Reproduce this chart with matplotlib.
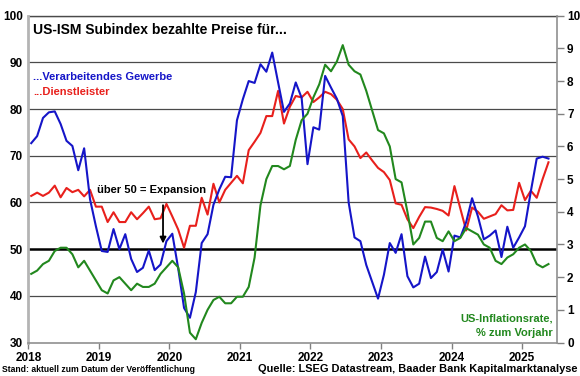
import numpy as np
import matplotlib
matplotlib.use("Agg")
import matplotlib.pyplot as plt

plt.rcParams['font.family'] = ['Liberation Sans', 'DejaVu Sans']
plt.rcParams['font.weight'] = 'bold'

start_year = 2018
# ISM Prices paid - manufacturing (left axis)
manufacturing = [72.7, 74.2, 78.1, 79.3, 79.5, 76.8, 73.2, 72.1, 66.9, 71.6, 60.7, 54.9,
                 49.6, 49.4, 54.3, 50.0, 53.2, 47.9, 45.1, 46.0, 49.7, 45.5, 46.7, 51.7,
                 53.3, 45.9, 37.4, 35.3, 40.8, 51.3, 53.2, 59.5, 62.8, 65.5, 65.4, 77.6,
                 82.1, 86.0, 85.6, 89.6, 88.0, 92.1, 85.7, 79.4, 81.2, 85.7, 82.4, 68.2,
                 76.1, 75.6, 87.1, 84.6, 82.2, 78.5, 60.0, 52.5, 51.7, 46.6, 43.0, 39.4,
                 44.5, 51.3, 49.2, 53.2, 44.2, 41.8, 42.6, 48.4, 43.8, 45.1, 49.9, 45.2,
                 52.9, 52.5, 55.8, 60.9, 57.0, 52.1, 52.9, 54.0, 48.3, 54.8, 50.3, 52.5,
                 54.9, 62.4, 69.4, 69.8, 69.4]
# ISM Prices paid - services (left axis)
services = [61.4, 62.1, 61.4, 62.1, 63.6, 61.1, 63.1, 62.2, 62.7, 61.3, 62.7, 59.1,
            59.1, 55.8, 57.9, 55.8, 55.8, 57.9, 56.4, 57.7, 59.1, 56.4, 56.6, 59.7,
            57.0, 54.2, 50.3, 55.0, 55.0, 61.0, 57.4, 64.0, 60.0, 62.7, 64.2, 65.7,
            64.1, 71.2, 73.0, 74.9, 78.5, 78.5, 83.9, 76.9, 80.5, 82.8, 82.5, 83.7,
            81.5, 82.5, 83.7, 83.2, 82.0, 80.0, 73.5, 72.0, 69.5, 70.7, 69.0, 67.4,
            66.5, 64.8, 59.8, 59.5, 56.4, 54.5, 56.9, 59.0, 58.9, 58.6, 58.2, 57.2,
            63.5, 58.7, 54.0, 58.9, 58.0, 56.5, 57.0, 57.5, 59.4, 58.3, 58.4, 64.2,
            60.5, 62.5, 61.0, 65.0, 68.6]
# US CPI inflation, % yoy (right axis)
inflation = [2.1, 2.2, 2.4, 2.5, 2.8, 2.9, 2.9, 2.7, 2.3, 2.5, 2.2, 1.9,
             1.6, 1.5, 1.9, 2.0, 1.8, 1.6, 1.8, 1.7, 1.7, 1.8, 2.1, 2.3,
             2.5, 2.3, 1.5, 0.3, 0.1, 0.6, 1.0, 1.3, 1.4, 1.2, 1.2, 1.4,
             1.4, 1.7, 2.6, 4.2, 5.0, 5.4, 5.4, 5.3, 5.4, 6.2, 6.8, 7.0,
             7.5, 7.9, 8.5, 8.3, 8.6, 9.1, 8.5, 8.3, 8.2, 7.7, 7.1, 6.5,
             6.4, 6.0, 5.0, 4.9, 4.0, 3.0, 3.2, 3.7, 3.7, 3.2, 3.1, 3.4,
             3.1, 3.2, 3.5, 3.4, 3.3, 3.0, 2.9, 2.5, 2.4, 2.6, 2.7, 2.9,
             3.0, 2.8, 2.4, 2.3, 2.4]

year_ticks = [2018, 2019, 2020, 2021, 2022, 2023, 2024, 2025]
left_ticks = [30, 40, 50, 60, 70, 80, 90, 100]
right_ticks = [0, 1, 2, 3, 4, 5, 6, 7, 8, 9, 10]

n = len(manufacturing)
x = start_year + (np.arange(n) + 0.5) / 12.0

W, H = 580, 376
fig = plt.figure(figsize=(W / 100, H / 100), dpi=100)
l, r, t, b = 28.3, 557.3, 15.7, 342.5
ax = fig.add_axes([l / W, 1 - b / H, (r - l) / W, (b - t) / H])
ax2 = ax.twinx()

blue = '#1515C8'
red = '#E8201C'
green = '#22881E'

# grid lines
for v in left_ticks[1:]:
    if v == 50:
        ax.axhline(v, color='black', lw=1.8, zorder=1)
    else:
        ax.axhline(v, color='#4a4a4a', lw=0.9, zorder=1)

ax.plot(x, services, color=red, lw=1.5, zorder=3)
ax.plot(x, manufacturing, color=blue, lw=1.5, zorder=4)
ax2.plot(x, inflation, color=green, lw=1.5, zorder=3)

ax.set_xlim(2018, 2025.5)
ax.set_ylim(30, 100)
ax2.set_ylim(0, 10)

ax.set_xticks(year_ticks)
ax.set_xticklabels([str(y) for y in year_ticks], fontsize=8.5, fontweight='bold')
ax.set_yticks(left_ticks)
ax.set_yticklabels([str(v) for v in left_ticks], fontsize=8.5, fontweight='bold')
ax2.set_yticks(right_ticks)
ax2.set_yticklabels([str(v) for v in right_ticks], fontsize=8.5, fontweight='bold')

ax.tick_params(axis='y', length=0, pad=4)
ax.tick_params(axis='x', length=4, width=1, color='#808080', pad=3, direction='out')
ax2.tick_params(axis='y', length=5, width=1, color='#808080', pad=2, direction='out')

for a in (ax, ax2):
    for s in a.spines.values():
        s.set_visible(False)
ax.spines['left'].set_visible(True)
ax.spines['left'].set_color('#B4B4B4')
ax.spines['left'].set_linewidth(2.0)
ax.spines['bottom'].set_visible(True)
ax.spines['bottom'].set_color('#909090')
ax.spines['bottom'].set_linewidth(1.2)
ax2.spines['right'].set_visible(True)
ax2.spines['right'].set_color('#909090')
ax2.spines['right'].set_linewidth(1.2)
ax.axhline(100, color='#4a4a4a', lw=1.0, zorder=1, clip_on=False)

# titles and labels
ax.text(0.009, 0.956, 'US-ISM Subindex bezahlte Preise für...', transform=ax.transAxes,
        fontsize=10, fontweight='bold', color='black', ha='left', va='center')
ax.text(0.009, 0.812, '...Verarbeitendes Gewerbe', transform=ax.transAxes,
        fontsize=8, fontweight='bold', color=blue, ha='left', va='center')
ax.text(0.009, 0.767, '...Dienstleister', transform=ax.transAxes,
        fontsize=8, fontweight='bold', color=red, ha='left', va='center')

ax.text(2018.974, 62.7, 'über 50 = Expansion', fontsize=8, fontweight='bold',
        color='black', ha='left', va='center', zorder=6)
ax.annotate('', xy=(2019.91, 50.6), xytext=(2019.91, 60.0),
            arrowprops=dict(arrowstyle='-|>', color='black', lw=1.3,
                            mutation_scale=9), zorder=6)

ax.text(0.992, 0.073, 'US-Inflationsrate,', transform=ax.transAxes,
        fontsize=8, fontweight='bold', color=green, ha='right', va='center')
ax.text(0.992, 0.028, '% zum Vorjahr', transform=ax.transAxes,
        fontsize=8, fontweight='bold', color=green, ha='right', va='center')

fig.text(2 / W, 1 - 369 / H, 'Stand: aktuell zum Datum der Veröffentlichung',
         fontsize=6.2, fontweight='bold', ha='left', va='center')
fig.text(578 / W, 1 - 368.5 / H, 'Quelle: LSEG Datastream, Baader Bank Kapitalmarktanalyse',
         fontsize=7.9, fontweight='bold', ha='right', va='center')

fig.savefig('out.png', dpi=100)
